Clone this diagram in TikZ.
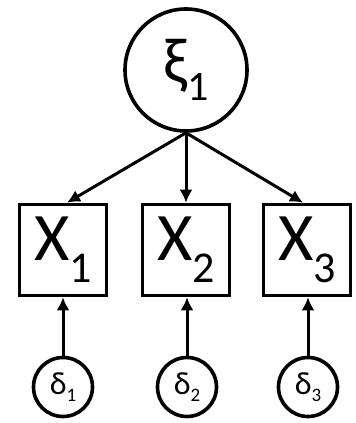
\documentclass[tikz,border=0pt]{standalone}
\usepackage{fontspec}
\setmainfont{Carlito}
\usetikzlibrary{arrows.meta}
% main symbol with a lowered index
\newcommand{\lblx}[5]{{\fontsize{#2}{#2}\selectfont #1}\raisebox{#4}{\fontsize{#3}{#3}\selectfont #5}}
\begin{document}
\begin{tikzpicture}[x=1pt,y=1pt,
  line width=3.6pt,
  latent/.style={draw,circle,minimum size=122pt,inner sep=0pt},
  obs/.style={draw,rectangle,minimum width=87pt,minimum height=91pt,inner sep=0pt},
  err/.style={draw,circle,minimum size=59pt,inner sep=0pt},
  arr/.style={line width=3pt,-{Latex[length=13pt,width=13pt]}}]
\useasboundingbox (0,0) rectangle (356,423);
% latent factor
\node[latent] (xi) at (186,353) {\lblx{ξ}{64pt}{42pt}{-18pt}{1}};
% observed indicators
\node[obs] (x1) at (63,173) {\lblx{X}{68pt}{44pt}{-22pt}{1}};
\node[obs] (x2) at (186,173) {\lblx{X}{68pt}{44pt}{-22pt}{2}};
\node[obs] (x3) at (307,173) {\lblx{X}{68pt}{44pt}{-22pt}{3}};
% measurement errors
\node[err] (d1) at (63,36) {\lblx{δ}{32pt}{19pt}{-7pt}{1}};
\node[err] (d2) at (187,36) {\lblx{δ}{32pt}{19pt}{-7pt}{2}};
\node[err] (d3) at (308,36) {\lblx{δ}{32pt}{19pt}{-7pt}{3}};
% loadings
\draw[arr] (xi.south) -- ([xshift=4pt]x1.north);
\draw[arr] (xi.south) -- (x2.north);
\draw[arr] (xi.south) -- ([xshift=-4pt]x3.north);
% error paths
\draw[arr] (d1.north) -- (d1.north |- x1.south);
\draw[arr] (d2.north) -- (d2.north |- x2.south);
\draw[arr] (d3.north) -- (d3.north |- x3.south);
\end{tikzpicture}
\end{document}
